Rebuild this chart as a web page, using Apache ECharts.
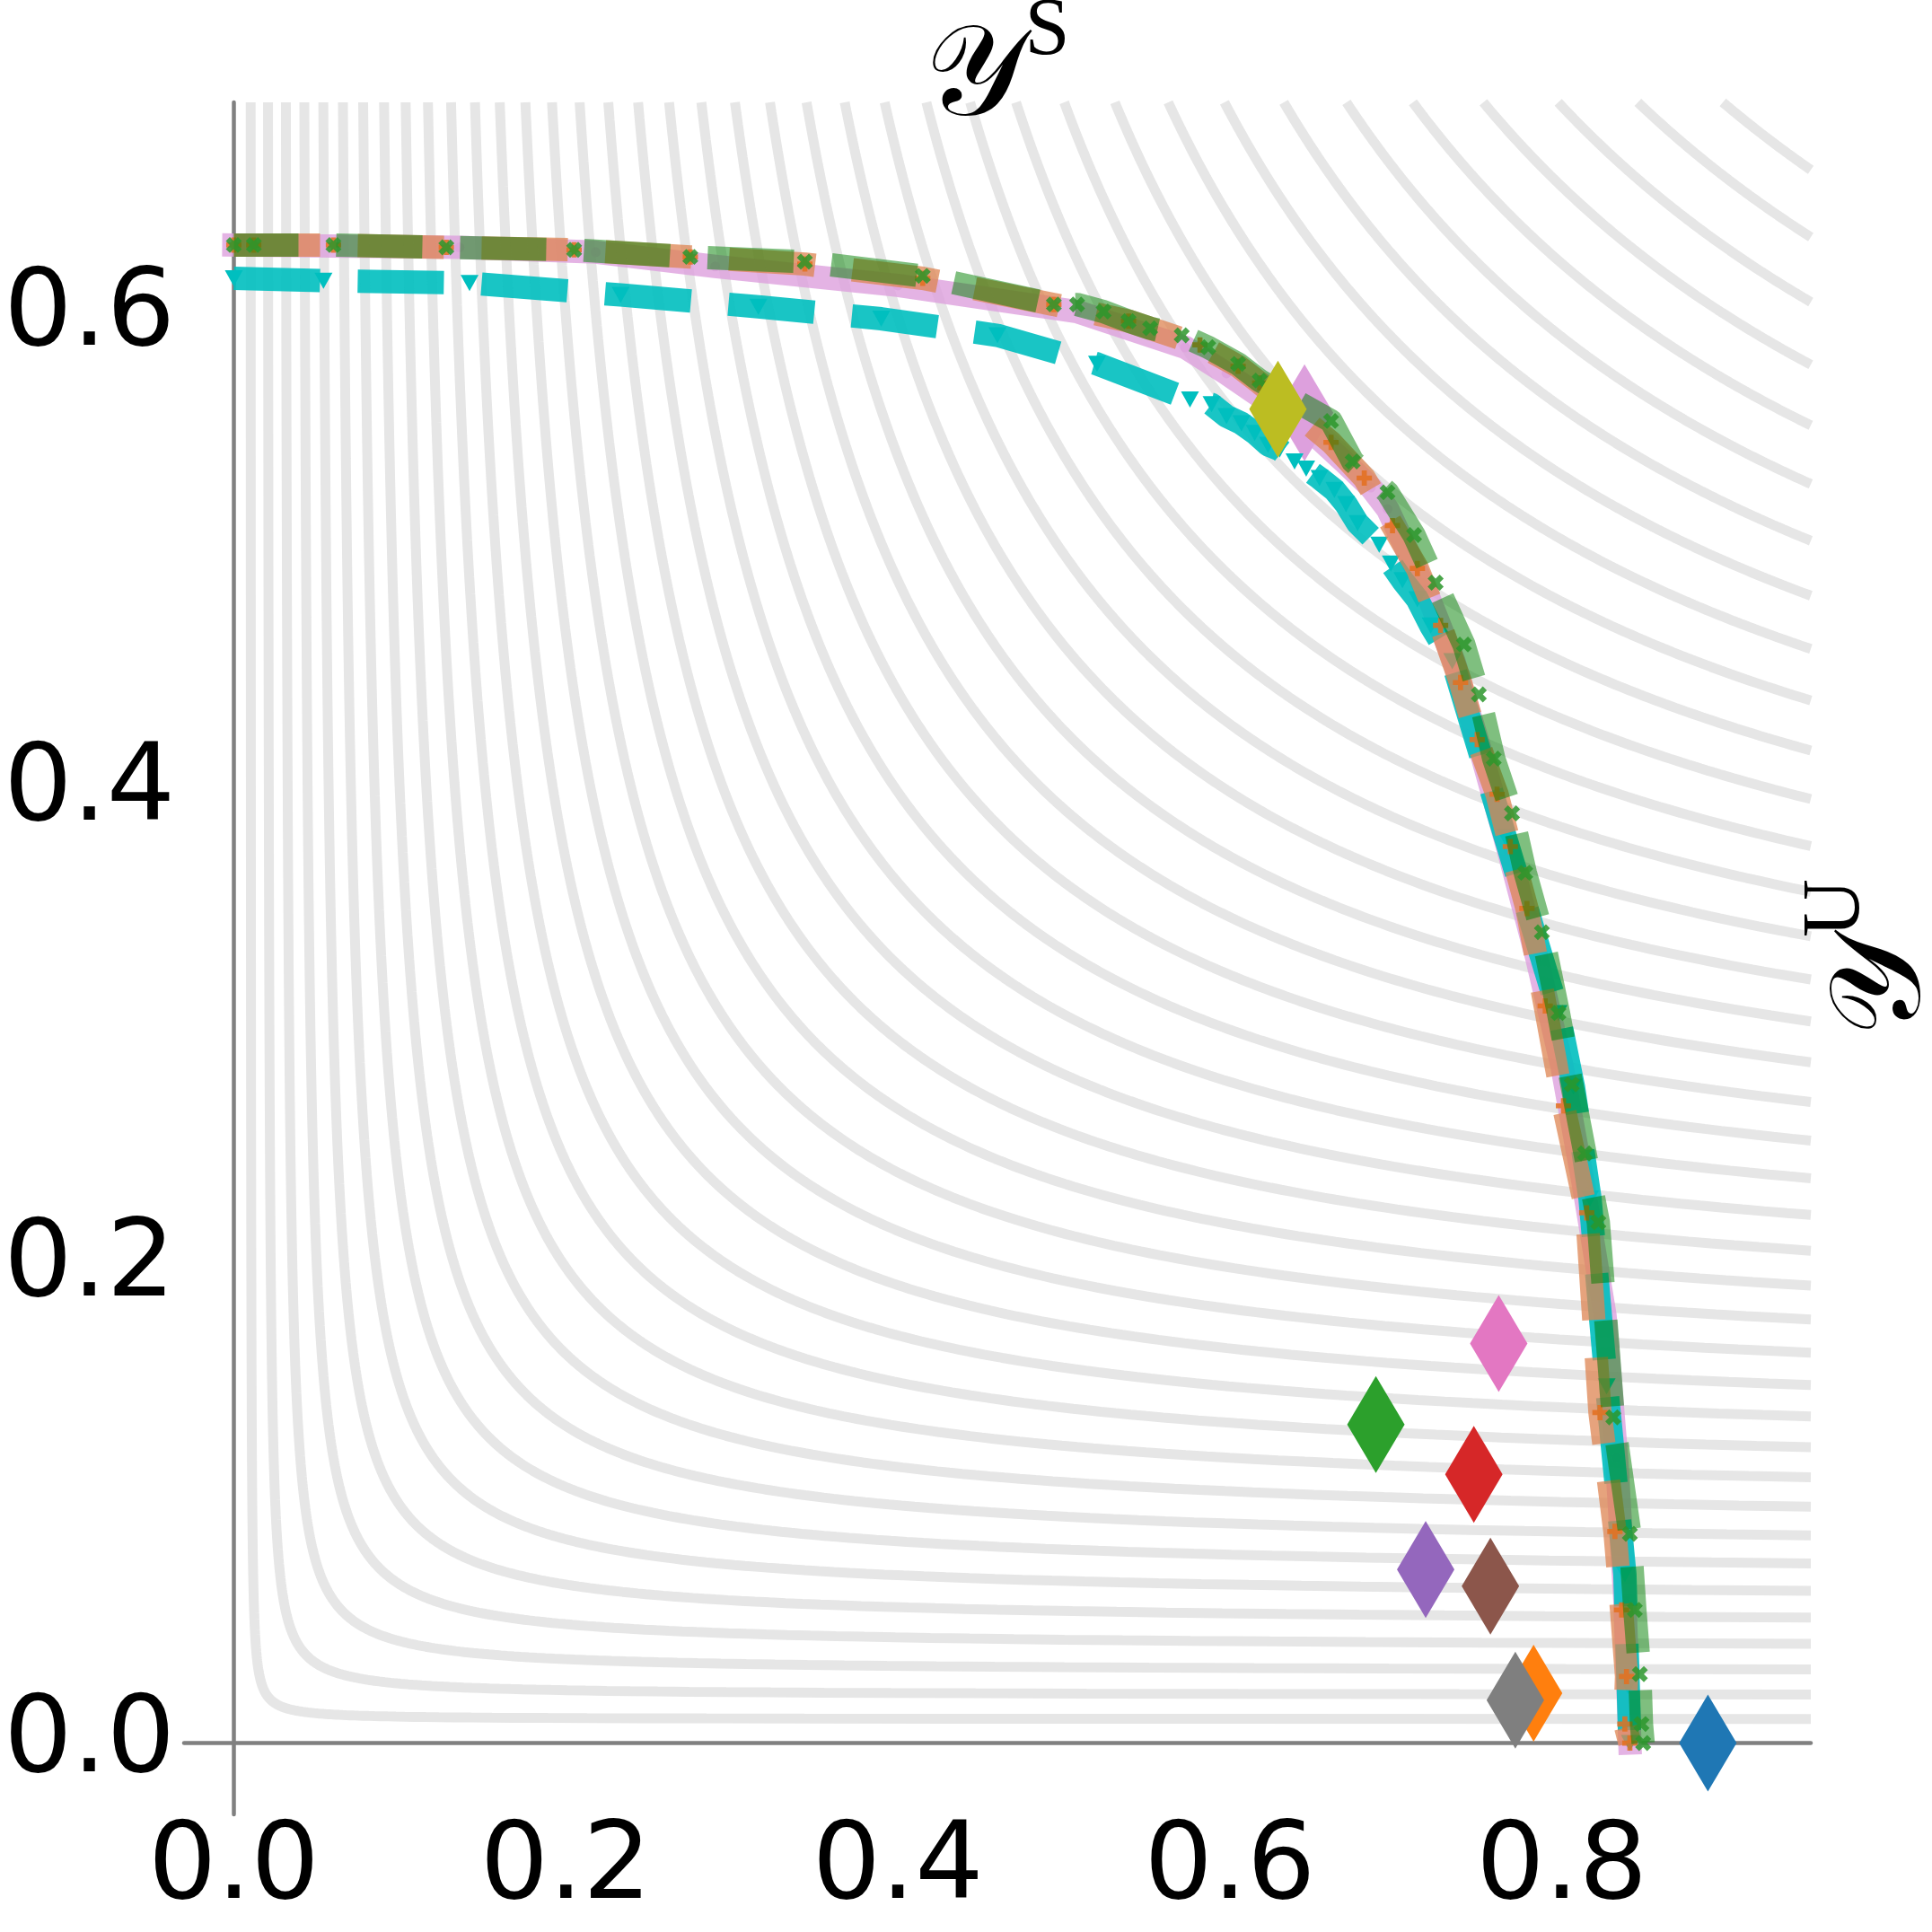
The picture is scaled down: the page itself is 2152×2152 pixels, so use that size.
<!DOCTYPE html>
<html>
<head>
<meta charset="utf-8">
<script src="https://cdn.jsdelivr.net/npm/echarts@6.0.0/dist/echarts.min.js"></script>
<style>
  html, body { margin: 0; padding: 0; background: #fff; }
  #main { width: 2152px; height: 2152px; }
</style>
</head>
<body>
<div id="main"></div>
<script>
// axis ranges and tick labels
var X_MIN = -0.03, X_MAX = 0.95;
var Y_MIN = -0.03, Y_MAX = 0.69;
var xTicks = [0.0, 0.2, 0.4, 0.6, 0.8];
var yTicks = [0.0, 0.2, 0.4, 0.6];

// background: harmonic mean levels 2xy/(x+y)
var hmLevels = [0.02, 0.04, 0.06, 0.08, 0.10, 0.12, 0.14, 0.16, 0.18, 0.20,
                0.22, 0.24, 0.26, 0.28, 0.30, 0.32, 0.34, 0.36, 0.38, 0.40,
                0.42, 0.44, 0.46, 0.48, 0.50, 0.52, 0.54, 0.56, 0.58, 0.60,
                0.62, 0.64, 0.66, 0.68, 0.70, 0.72, 0.74, 0.76, 0.78];

// front 1 (plum, solid)
var pinkX = [0.000, 0.136, 0.218, 0.290, 0.400, 0.508, 0.573, 0.598, 0.625, 0.650, 0.670, 0.685, 0.695,
             0.718, 0.735, 0.752, 0.768, 0.785, 0.800, 0.813, 0.826, 0.833, 0.838, 0.841];
var pinkY = [0.630, 0.629, 0.627, 0.621, 0.613, 0.602, 0.587, 0.576, 0.563, 0.551, 0.538, 0.528, 0.519,
             0.485, 0.455, 0.415, 0.375, 0.330, 0.285, 0.235, 0.180, 0.120, 0.060, 0.000];

// front 2 (cyan, dashed, triangles)
var cyanX = [0.000, 0.054, 0.142, 0.233, 0.316, 0.390, 0.460, 0.520, 0.576, 0.589, 0.598, 0.607, 0.615,
             0.623, 0.630, 0.639, 0.646, 0.654, 0.663, 0.670, 0.677, 0.690, 0.697, 0.704, 0.713, 0.721,
             0.734, 0.766, 0.798, 0.807, 0.817, 0.827, 0.838, 0.840, 0.841];
var cyanY = [0.616, 0.615, 0.614, 0.609, 0.604, 0.599, 0.592, 0.580, 0.565, 0.563, 0.558, 0.555, 0.551,
             0.546, 0.544, 0.539, 0.536, 0.532, 0.527, 0.521, 0.513, 0.504, 0.496, 0.489, 0.481, 0.470,
             0.455, 0.381, 0.307, 0.276, 0.229, 0.150, 0.071, 0.024, 0.000];

// front 3 (orange, dashed, plus)
var orangeX = [0.000, 0.012, 0.060, 0.128, 0.205, 0.275, 0.344, 0.415, 0.494, 0.539, 0.582, 0.605, 0.618,
               0.661, 0.681, 0.698, 0.713, 0.727, 0.739, 0.749, 0.761, 0.769, 0.779, 0.790, 0.801, 0.815,
               0.823, 0.832, 0.836, 0.839, 0.838, 0.841];
var orangeY = [0.630, 0.630, 0.630, 0.629, 0.628, 0.625, 0.622, 0.616, 0.605, 0.598, 0.588, 0.579, 0.572,
               0.547, 0.532, 0.512, 0.494, 0.470, 0.446, 0.422, 0.399, 0.377, 0.351, 0.310, 0.268, 0.223,
               0.139, 0.089, 0.056, 0.028, 0.008, 0.000];

// front 4 (green, dashed, x)
var greenX = [0.000, 0.012, 0.060, 0.128, 0.205, 0.275, 0.344, 0.415, 0.494, 0.508, 0.524, 0.539, 0.552,
              0.571, 0.587, 0.605, 0.618, 0.661, 0.674, 0.695, 0.711, 0.724, 0.741, 0.750, 0.759, 0.770,
              0.778, 0.788, 0.798, 0.806, 0.814, 0.822, 0.831, 0.841, 0.844, 0.847, 0.848, 0.849];
var greenY = [0.630, 0.630, 0.630, 0.629, 0.628, 0.625, 0.623, 0.617, 0.605, 0.605, 0.602, 0.598, 0.595,
              0.592, 0.587, 0.580, 0.573, 0.556, 0.539, 0.526, 0.508, 0.488, 0.462, 0.441, 0.414, 0.391,
              0.366, 0.341, 0.307, 0.277, 0.248, 0.219, 0.137, 0.088, 0.056, 0.029, 0.008, 0.000];

// single models (diamonds)
var diamondX = [0.888, 0.783, 0.688, 0.747, 0.718, 0.757, 0.762, 0.772, 0.629];
var diamondY = [0.000, 0.021, 0.134, 0.113, 0.073, 0.066, 0.168, 0.018, 0.561];
var diamondColors = ['#1f77b4', '#ff7f0e', '#2ca02c', '#d62728', '#9467bd', '#8c564b', '#e377c2', '#7f7f7f', '#bcbd22'];
var plumX = [0.645];
var plumY = [0.5595];

function pairs(xs, ys) {
  return xs.map(function (x, i) { return [x, ys[i]]; });
}

// level set of 2xy/(x+y) = c inside the plot box
function hmContour(c) {
  var xTop = 1 / (2 / c - 1 / Y_MAX);
  var yRight = 1 / (2 / c - 1 / X_MAX);
  var t0 = Math.atan2(Y_MAX, xTop), t1 = Math.atan2(yRight, X_MAX);
  var pts = [];
  for (var i = 0; i <= 240; i++) {
    var t = t0 + (t1 - t0) * i / 240;
    var co = Math.cos(t), si = Math.sin(t);
    var r = c * (co + si) / (2 * co * si);
    pts.push([r * co, r * si]);
  }
  return pts;
}

var plusPath = 'path://M1,0L2,0L2,1L3,1L3,2L2,2L2,3L1,3L1,2L0,2L0,1L1,1Z';
var LW = 26;
var DASH = [96, 42];
var FONT = 'DejaVu Sans';

var series = [];

hmLevels.forEach(function (c) {
  series.push({
    type: 'line', silent: true, z: 1, symbol: 'none',
    data: hmContour(c),
    lineStyle: { color: '#e6e6e6', width: 11 }
  });
});

series.push({
  type: 'line', z: 2, data: pairs(pinkX, pinkY),
  symbol: 'circle', symbolSize: 11, showAllSymbol: true,
  itemStyle: { color: '#dda0dd', opacity: 0.7 },
  lineStyle: { color: '#dda0dd', width: LW, opacity: 0.8, cap: 'square', join: 'round' }
});
series.push({
  type: 'scatter', z: 3, data: pairs(plumX, plumY),
  symbol: 'diamond', symbolSize: [64, 108],
  itemStyle: { color: '#dda0dd', opacity: 1 }
});
series.push({
  type: 'line', z: 4, data: pairs(cyanX, cyanY),
  symbol: 'triangle', symbolRotate: 180, symbolSize: [20, 18], showAllSymbol: true,
  itemStyle: { color: '#00bfbf' },
  lineStyle: { color: '#00bfbf', width: LW, opacity: 0.9, type: DASH, cap: 'butt', join: 'round' }
});
series.push({
  type: 'line', z: 5, data: pairs(orangeX, orangeY),
  symbol: plusPath, symbolSize: 17, showAllSymbol: true,
  itemStyle: { color: 'rgba(228,112,30,0.85)' },
  lineStyle: { color: '#dd8452', width: LW, opacity: 0.75, type: DASH, cap: 'butt', join: 'round' }
});
series.push({
  type: 'line', z: 6, data: pairs(greenX, greenY),
  symbol: plusPath, symbolRotate: 45, symbolSize: 19, showAllSymbol: true,
  itemStyle: { color: 'rgba(44,150,44,0.85)' },
  lineStyle: { color: '#008000', width: LW, opacity: 0.5, type: DASH, dashOffset: 24, cap: 'butt', join: 'round' }
});
series.push({
  type: 'scatter', z: 7,
  data: diamondX.map(function (x, i) {
    return { value: [x, diamondY[i]], itemStyle: { color: diamondColors[i], opacity: 1 } };
  }),
  symbol: 'diamond', symbolSize: [64, 108]
});

var labelStyle = { fontFamily: FONT, fontSize: 120, color: '#000' };

function mathLabel(sup) {
  return {
    text: '{m|𝒴}{s|' + sup + '}', align: 'center', verticalAlign: 'middle',
    rich: {
      m: { fontFamily: 'DejaVu Serif', fontSize: 142, lineHeight: 170, verticalAlign: 'bottom', fill: '#000' },
      s: { fontFamily: 'Liberation Serif', fontSize: 90, lineHeight: 90, verticalAlign: 'top', fill: '#000' }
    }
  };
}

var option = {
  animation: false,
  grid: { left: 205, right: 135, top: 114, bottom: 131, outerBoundsMode: 'none' },
  xAxis: [
    {
      type: 'value', min: X_MIN, max: X_MAX, position: 'bottom',
      axisLine: { show: false, onZero: false }, axisTick: { show: false }, splitLine: { show: false },
      axisLabel: Object.assign({ customValues: xTicks, margin: 2,
        formatter: function (v) { return v.toFixed(1); } }, labelStyle)
    },
    {
      type: 'value', min: X_MIN, max: X_MAX, position: 'top',
      axisLine: { show: true, onZero: true, onZeroAxisIndex: 0, lineStyle: { color: '#808080', width: 4.5 } },
      axisTick: { show: false }, splitLine: { show: false }, axisLabel: { show: false }
    }
  ],
  yAxis: [
    {
      type: 'value', min: Y_MIN, max: Y_MAX, position: 'left',
      axisLine: { show: false, onZero: false }, axisTick: { show: false }, splitLine: { show: false },
      axisLabel: Object.assign({ customValues: yTicks, margin: 10,
        formatter: function (v) { return v.toFixed(1); } }, labelStyle)
    },
    {
      type: 'value', min: Y_MIN, max: Y_MAX, position: 'right',
      axisLine: { show: true, onZero: true, onZeroAxisIndex: 0, lineStyle: { color: '#808080', width: 4.5 } },
      axisTick: { show: false }, splitLine: { show: false }, axisLabel: { show: false }
    }
  ],
  graphic: [
    { type: 'text', x: 1111, y: 76, z: 10, style: mathLabel('S') },
    { type: 'text', x: 2086, y: 1067, z: 10, rotation: Math.PI / 2, style: mathLabel('U') }
  ],
  series: series
};

var chart = echarts.init(document.getElementById('main'));
chart.setOption(option);
</script>
</body>
</html>
